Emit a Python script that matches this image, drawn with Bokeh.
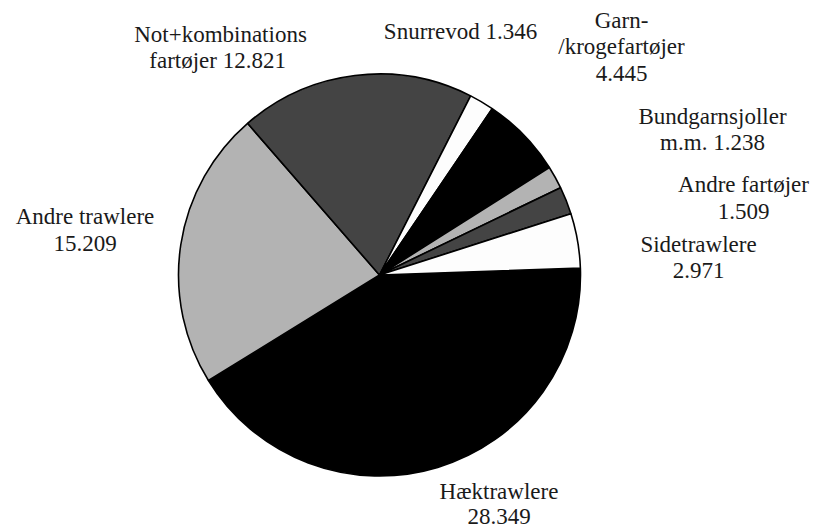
import numpy as np
from bokeh.plotting import figure
from bokeh.models import Range1d, ColumnDataSource
from bokeh.core.properties import value
from bokeh.embed import file_html
from bokeh.resources import INLINE

# ---- data (clockwise order, first slice starts near 3 o'clock) ----
categories = ["Hæktrawlere", "Andre trawlere", "Not+kombinations fartøjer",
              "Snurrevod", "Garn-/krogefartøjer", "Bundgarnsjoller m.m.",
              "Andre fartøjer", "Sidetrawlere"]
values = [28.349, 15.209, 12.821, 1.346, 4.445, 1.238, 1.509, 2.971]

# label templates (line breaks as in the original)
label_templates = ["Hæktrawlere\n{v}", "Andre trawlere\n{v}",
                   "Not+kombinations\nfartøjer  {v}", "Snurrevod {v}",
                   "Garn-\n/krogefartøjer\n{v}", "Bundgarnsjoller\nm.m. {v}",
                   "Andre fartøjer\n{v}", "Sidetrawlere\n{v}"]

# ---- styles / layout ----
fills = ["#000000", "#b3b3b3", "#444444", "#fdfdfd",
         "#000000", "#b3b3b3", "#444444", "#fdfdfd"]
cx, cy, r = 379, -274.5, 201
first_angle_deg = 88.0  # clockwise from 12 o'clock

# label anchor: centre x and baseline y of each line (picture pixels)
label_x = [498.5, 84.5, 220, 460, 621, 712, 743, 698]
label_baselines = [[499, 523.5], [224, 251], [42, 68], [39],
                   [28, 54, 81], [124, 150], [192, 219], [252, 278]]
mid_offset = 8  # distance from baseline to the text middle

W, H = 814, 528
p = figure(width=W, height=H, output_backend="svg", toolbar_location=None,
           x_range=Range1d(0, W), y_range=Range1d(-H, 0),
           x_axis_location=None, y_axis_location=None, min_border=0)
p.grid.visible = False
p.outline_line_color = None
p.background_fill_color = "white"
p.border_fill_color = "white"

vals = np.array(values, dtype=float)
frac = vals / vals.sum()
cum = np.concatenate([[0.0], np.cumsum(frac)]) * 2 * np.pi
theta0 = np.deg2rad(first_angle_deg) + cum[:-1]
theta1 = np.deg2rad(first_angle_deg) + cum[1:]
start = np.pi / 2 - theta1
end = np.pi / 2 - theta0

src = ColumnDataSource(dict(start=start, end=end, fill=fills, cat=categories, val=values))
p.wedge(x=cx, y=cy, radius=r, start_angle="start", end_angle="end",
        direction="anticlock", fill_color="fill", line_color="black",
        line_width=1.6, source=src)

tx, ty, tt = [], [], []
for tmpl, v, x, bl in zip(label_templates, values, label_x, label_baselines):
    lines = tmpl.format(v=f"{v:.3f}").split("\n")
    for line, yb in zip(lines, bl):
        tx.append(x)
        ty.append(-(yb - mid_offset))
        tt.append(line)

p.text(x=tx, y=ty, text=tt, text_align="center", text_baseline="middle",
       text_font=value("Liberation Serif"), text_font_size="23px",
       text_color="#1a1a1a")

open("out.html", "w").write(file_html(p, INLINE))
